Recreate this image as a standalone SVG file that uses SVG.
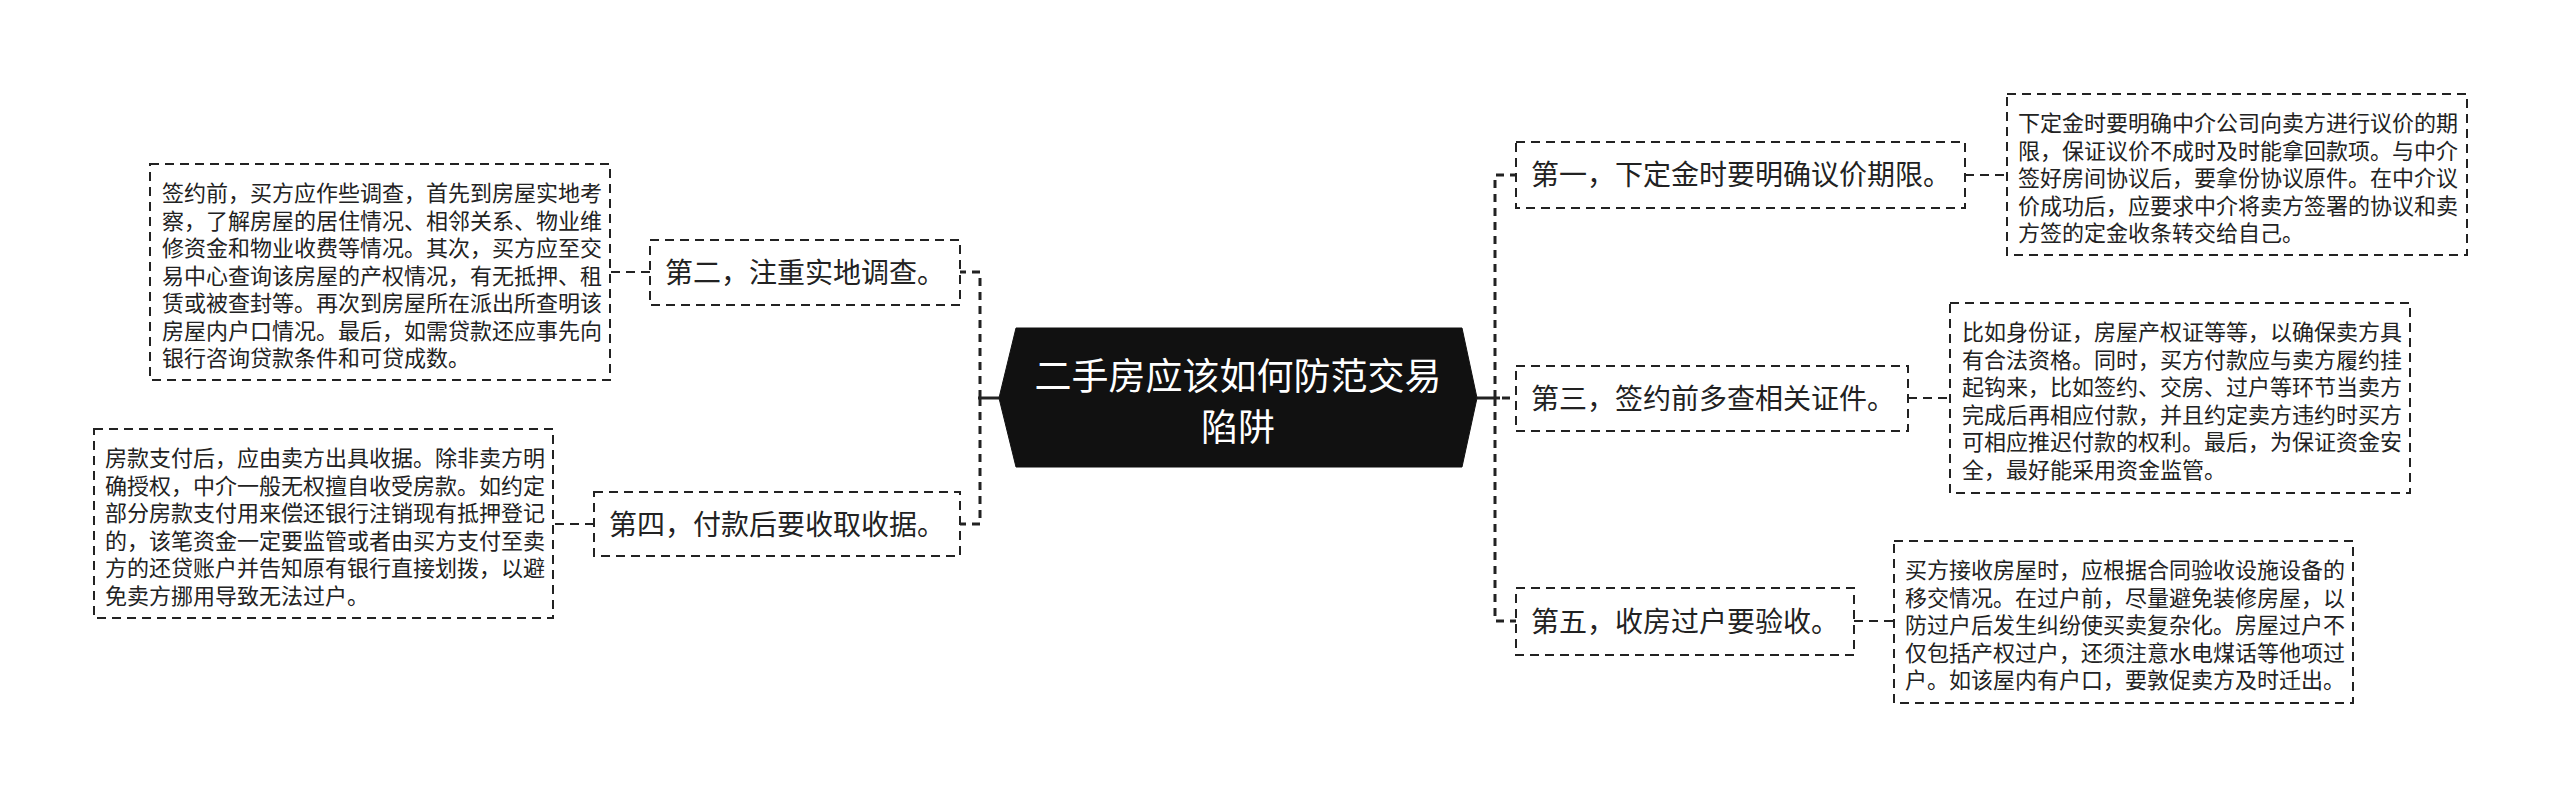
<svg xmlns="http://www.w3.org/2000/svg" width="2560" height="797" viewBox="0 0 2560 797">
<style>
  .bg{fill:#ffffff}
  .box{fill:#ffffff;stroke:#222;stroke-width:2;stroke-dasharray:9 6}
  .mid{font-family:"Noto Sans CJK SC","Noto Sans",sans-serif;font-size:28px;fill:#222}
  .det{font-family:"Noto Sans CJK SC","Noto Sans",sans-serif;font-size:22px;fill:#222}
  .ctr{font-family:"Noto Sans CJK SC","Noto Sans",sans-serif;font-size:37px;fill:#ffffff;text-anchor:middle}
  .trunk{fill:none;stroke:#222;stroke-width:3;stroke-dasharray:8 6}
  .solid{fill:none;stroke:#222;stroke-width:3}
  .link{fill:none;stroke:#222;stroke-width:2;stroke-dasharray:9 6}
</style>
<rect class="bg" x="0" y="0" width="2560" height="797"/>
<g id="connectors">
  <path class="solid" d="M999,398 H978"/>
  <path class="trunk" d="M980,398 V272 H960"/>
  <path class="trunk" d="M980,398 V524 H960"/>
  <path class="solid" d="M1477,398 H1500"/>
  <path class="trunk" d="M1495,398 V175 H1516"/>
  <path class="trunk" d="M1502,398 H1516"/>
  <path class="trunk" d="M1495,398 V621 H1516"/>
  <path class="link" d="M650,272 H610"/>
  <path class="link" d="M594,524 H553"/>
  <path class="link" d="M1965,175 H2007"/>
  <path class="link" d="M1908,398 H1950"/>
  <path class="link" d="M1854,621 H1894"/>
</g>
<g id="center">
  <polygon points="999,398 1016,328 1462,328 1477,398 1462,467 1016,467" fill="#111111" stroke="#111111" stroke-width="1"/>
  <text class="ctr" x="1238" y="390">二手房应该如何防范交易</text>
  <text class="ctr" x="1238" y="441">陷阱</text>
</g>
<g id="n1">
  <rect class="box" x="1516" y="142" width="449" height="66"/>
  <text class="mid" x="1531" y="185">第一，下定金时要明确议价期限。</text>
</g>
<g id="n1d">
  <rect class="box" x="2007" y="94" width="460" height="161"/>
  <text class="det" x="2018">
    <tspan x="2018" y="131">下定金时要明确中介公司向卖方进行议价的期</tspan>
    <tspan x="2018" y="158.5">限，保证议价不成时及时能拿回款项。与中介</tspan>
    <tspan x="2018" y="186">签好房间协议后，要拿份协议原件。在中介议</tspan>
    <tspan x="2018" y="213.5">价成功后，应要求中介将卖方签署的协议和卖</tspan>
    <tspan x="2018" y="241">方签的定金收条转交给自己。</tspan>
  </text>
</g>
<g id="n3">
  <rect class="box" x="1516" y="366" width="392" height="65"/>
  <text class="mid" x="1531" y="409">第三，签约前多查相关证件。</text>
</g>
<g id="n3d">
  <rect class="box" x="1950" y="303" width="460" height="190"/>
  <text class="det">
    <tspan x="1962" y="340">比如身份证，房屋产权证等等，以确保卖方具</tspan>
    <tspan x="1962" y="367.5">有合法资格。同时，买方付款应与卖方履约挂</tspan>
    <tspan x="1962" y="395">起钩来，比如签约、交房、过户等环节当卖方</tspan>
    <tspan x="1962" y="422.5">完成后再相应付款，并且约定卖方违约时买方</tspan>
    <tspan x="1962" y="450">可相应推迟付款的权利。最后，为保证资金安</tspan>
    <tspan x="1962" y="477.5">全，最好能采用资金监管。</tspan>
  </text>
</g>
<g id="n5">
  <rect class="box" x="1516" y="588" width="338" height="67"/>
  <text class="mid" x="1531" y="632">第五，收房过户要验收。</text>
</g>
<g id="n5d">
  <rect class="box" x="1894" y="541" width="459" height="162"/>
  <text class="det">
    <tspan x="1905" y="578">买方接收房屋时，应根据合同验收设施设备的</tspan>
    <tspan x="1905" y="605.5">移交情况。在过户前，尽量避免装修房屋，以</tspan>
    <tspan x="1905" y="633">防过户后发生纠纷使买卖复杂化。房屋过户不</tspan>
    <tspan x="1905" y="660.5">仅包括产权过户，还须注意水电煤话等他项过</tspan>
    <tspan x="1905" y="688">户。如该屋内有户口，要敦促卖方及时迁出。</tspan>
  </text>
</g>
<g id="n2">
  <rect class="box" x="650" y="240" width="310" height="65"/>
  <text class="mid" x="665" y="283">第二，注重实地调查。</text>
</g>
<g id="n2d">
  <rect class="box" x="150" y="164" width="460" height="216"/>
  <text class="det">
    <tspan x="162" y="201">签约前，买方应作些调查，首先到房屋实地考</tspan>
    <tspan x="162" y="228.5">察，了解房屋的居住情况、相邻关系、物业维</tspan>
    <tspan x="162" y="256">修资金和物业收费等情况。其次，买方应至交</tspan>
    <tspan x="162" y="283.5">易中心查询该房屋的产权情况，有无抵押、租</tspan>
    <tspan x="162" y="311">赁或被查封等。再次到房屋所在派出所查明该</tspan>
    <tspan x="162" y="338.5">房屋内户口情况。最后，如需贷款还应事先向</tspan>
    <tspan x="162" y="366">银行咨询贷款条件和可贷成数。</tspan>
  </text>
</g>
<g id="n4">
  <rect class="box" x="594" y="492" width="366" height="64"/>
  <text class="mid" x="609" y="535">第四，付款后要收取收据。</text>
</g>
<g id="n4d">
  <rect class="box" x="94" y="429" width="459" height="189"/>
  <text class="det">
    <tspan x="105" y="466">房款支付后，应由卖方出具收据。除非卖方明</tspan>
    <tspan x="105" y="493.5">确授权，中介一般无权擅自收受房款。如约定</tspan>
    <tspan x="105" y="521">部分房款支付用来偿还银行注销现有抵押登记</tspan>
    <tspan x="105" y="548.5">的，该笔资金一定要监管或者由买方支付至卖</tspan>
    <tspan x="105" y="576">方的还贷账户并告知原有银行直接划拨，以避</tspan>
    <tspan x="105" y="603.5">免卖方挪用导致无法过户。</tspan>
  </text>
</g>
</svg>
